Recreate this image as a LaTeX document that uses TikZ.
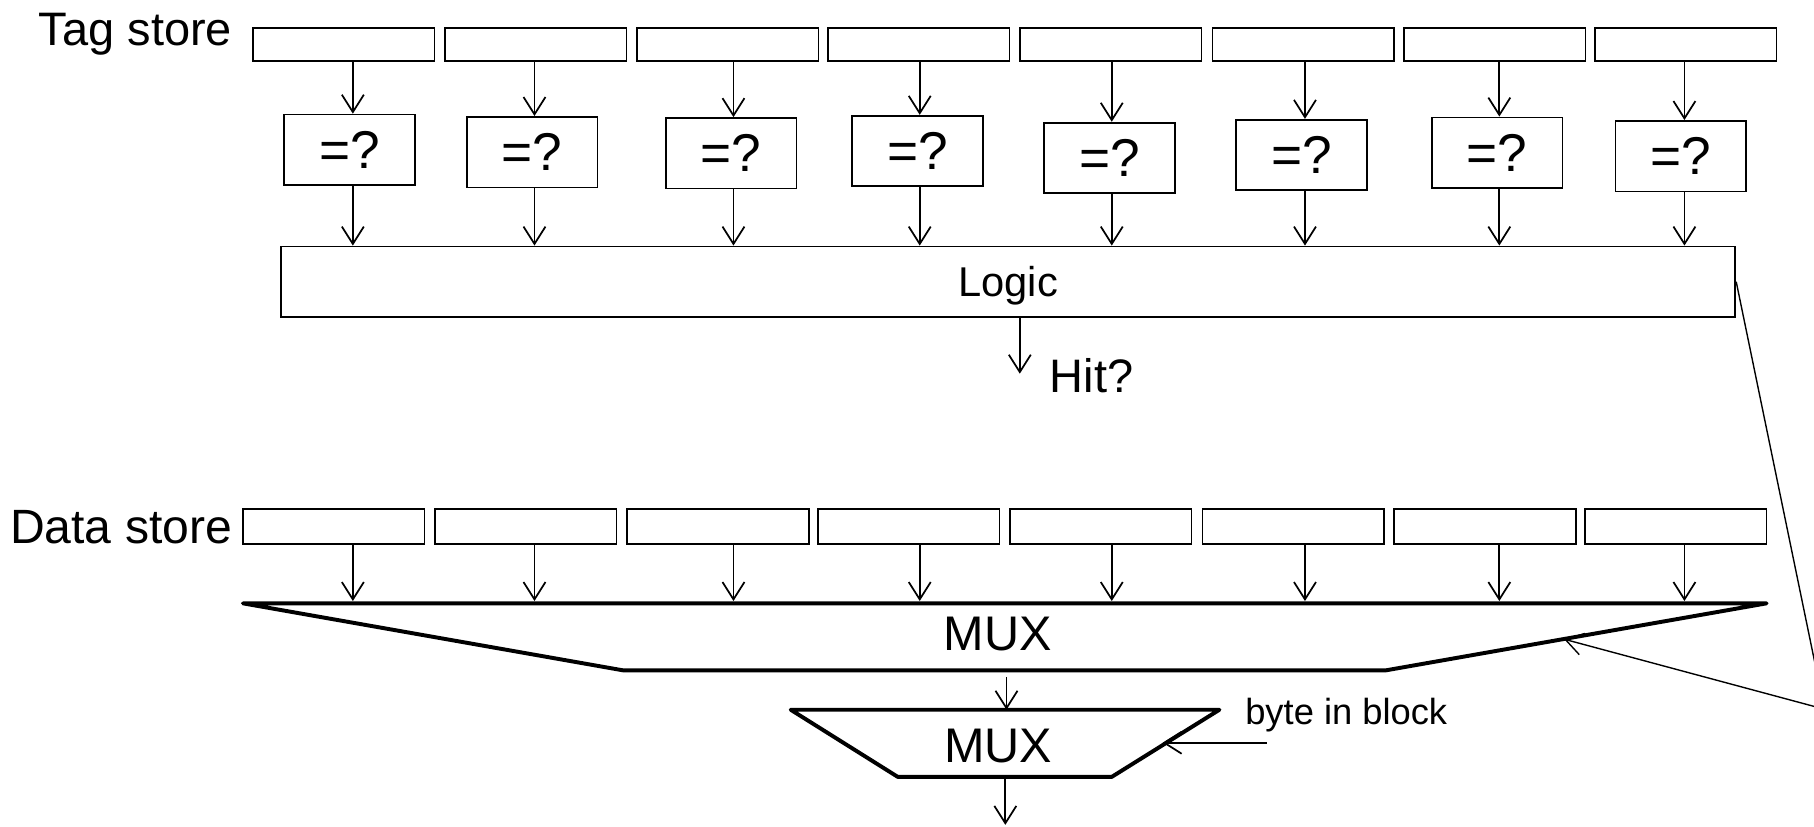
\documentclass[tikz,border=0pt]{standalone}
\usepackage{fontspec}
\setmainfont{Liberation Sans}
\usetikzlibrary{arrows.meta}
\begin{document}
\begin{tikzpicture}[x=0.5pt,y=-0.5pt,
  thinline/.style={line width=0.75pt},
  arr/.style={thinline,-{Straight Barb[length=7.5pt,width=9.5pt]}},
  cell/.style={draw,thinline,minimum width=78.5pt,minimum height=14.5pt,inner sep=0pt},
  cmp/.style={draw,thinline,minimum width=56.5pt,minimum height=30.5pt,inner sep=0pt,
    text depth=-1.5pt,font=\fontsize{23}{27}\selectfont},
  muxline/.style={line width=1.7pt,line join=round,line cap=round},
  muxtext/.style={inner sep=0pt,anchor=base,font=\fontsize{21}{25}\selectfont},
  biglabel/.style={inner sep=0pt,font=\fontsize{20.3}{24}\selectfont}]
\useasboundingbox (0,0) rectangle (1568,714);
\clip (0,0) rectangle (1568,714);

% labels
\node[biglabel,anchor=base east] (tagl) at (201,39) {Tag store};
\node[biglabel,anchor=base east,font=\fontsize{20.8}{24}\selectfont] (datal) at (201,470) {Data store};

% tag store cells
\node[cell] (t1) at (297,38.5) {};
\node[cell] (t2) at (463,38.5) {};
\node[cell] (t3) at (629,38.5) {};
\node[cell] (t4) at (794,38.5) {};
\node[cell] (t5) at (960,38.5) {};
\node[cell] (t6) at (1126.5,38.5) {};
\node[cell] (t7) at (1292,38.5) {};
\node[cell] (t8) at (1457,38.5) {};

% comparators
\node[cmp] (c1) at (302,129.5) {=?};
\node[cmp] (c2) at (460,131.5) {=?};
\node[cmp] (c3) at (632,132.5) {=?};
\node[cmp] (c4) at (793,130.5) {=?};
\node[cmp] (c5) at (959,136.5) {=?};
\node[cmp] (c6) at (1125,134) {=?};
\node[cmp] (c7) at (1294,132) {=?};
\node[cmp] (c8) at (1453,135) {=?};

% logic
\node[draw,thinline,minimum width=628.5pt,minimum height=30.5pt,inner sep=0pt,
  text depth=0pt,font=\fontsize{18}{22}\selectfont] (logic) at (871.5,243.5) {Logic};

% arrow columns
\coordinate (x1) at (305,0);
\coordinate (x2) at (462,0);
\coordinate (x3) at (634,0);
\coordinate (x4) at (795,0);
\coordinate (x5) at (961,0);
\coordinate (x6) at (1128,0);
\coordinate (x7) at (1296,0);
\coordinate (x8) at (1456,0);

\foreach \i in {1,...,8}{
  \draw[arr] (t\i.south -| x\i) -- (c\i.north -| x\i);
  \draw[arr] (c\i.south -| x\i) -- (logic.north -| x\i);
}

% hit
\coordinate (hitend) at (881.5,323);
\draw[arr] (logic.south -| hitend) -- (hitend);
\node[biglabel,anchor=base west] (hit) at (907,339.5) {Hit?};

% data store cells
\node[cell,minimum height=15pt] (d1) at (288.5,455) {};
\node[cell,minimum height=15pt] (d2) at (454.5,455) {};
\node[cell,minimum height=15pt] (d3) at (620.5,455) {};
\node[cell,minimum height=15pt] (d4) at (785.5,455) {};
\node[cell,minimum height=15pt] (d5) at (951.5,455) {};
\node[cell,minimum height=15pt] (d6) at (1118,455) {};
\node[cell,minimum height=15pt] (d7) at (1283.5,455) {};
\node[cell,minimum height=15pt] (d8) at (1448.5,455) {};

% big mux
\coordinate (m1tl) at (210,521.5);
\coordinate (m1tr) at (1527,521.5);
\coordinate (m1br) at (1197.5,579.5);
\coordinate (m1bl) at (539,579.5);
\draw[muxline] (m1tl) -- (m1tr) -- (m1br) -- (m1bl) -- cycle;
\node[muxtext] (mux1) at (862.5,562) {MUX};

\foreach \i in {1,...,8}{
  \draw[arr] (d\i.south -| x\i) -- ([yshift=1pt]x\i |- m1tl);
}

% small mux
\coordinate (m2tl) at (683.5,613.5);
\coordinate (m2tr) at (1054,613.5);
\coordinate (m2br) at (961,671.5);
\coordinate (m2bl) at (776,671.5);
\draw[muxline] (m2tl) -- (m2tr) -- (m2br) -- (m2bl) -- cycle;
\node[muxtext] (mux2) at (863,659) {MUX};

\coordinate (m1out) at (870,585);
\draw[arr] (m1out) -- (m1out |- m2tl);

% byte in block
\node[inner sep=0pt,anchor=base west,font=\fontsize{15.7}{19}\selectfont] (byte) at (1076,626) {byte in block};
\coordinate (bytein) at (1095,642);
\coordinate (bytetip) at (1005,642);
\draw[arr] (bytein) -- (bytetip);

% output
\coordinate (m2out) at (869,671.5);
\coordinate (outend) at (869,713);
\draw[arr] (m2out) -- (outend);

% hit select into big mux
\coordinate (bend) at (1577,613);
\coordinate (selin) at (1352,552.5);
\draw[arr,line width=0.6pt] (logic.east) -- (bend) -- (selin);
\end{tikzpicture}
\end{document}
